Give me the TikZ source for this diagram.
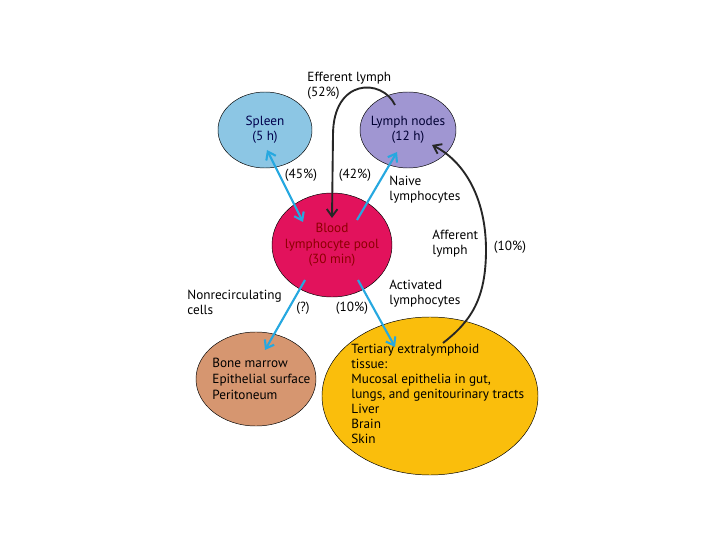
\documentclass[tikz,border=0pt]{standalone}
\usepackage{fontspec}
\setmainfont{PT Sans}
\usetikzlibrary{arrows.meta,calc,shapes.geometric}
\definecolor{spleenblue}{RGB}{140,198,228}
\definecolor{nodeviolet}{RGB}{160,150,210}
\definecolor{poolred}{RGB}{226,18,92}
\definecolor{marrowtan}{RGB}{214,150,112}
\definecolor{tissueyellow}{RGB}{250,190,12}
\definecolor{flowblue}{RGB}{38,168,224}
\tikzset{
  organ/.style={draw,ellipse,inner sep=0pt},
  organtext/.style={align=center,font=\fontsize{11.3}{13}\selectfont,inner sep=0pt},
  tag/.style={align=left,font=\fontsize{11.3}{13}\selectfont,inner sep=1pt},
  flow/.style={draw=flowblue,line width=1.8pt},
  lymphflow/.style={draw=black!85,line width=1.6pt}
}

\begin{document}
\begin{tikzpicture}[x=0.03cm,y=-0.03cm,>={Straight Barb[length=2.2mm,width=3.2mm]}]
  \useasboundingbox[fill=white] (0,0) rectangle (720,540);
  % compartments
  \node[organ,fill=spleenblue,minimum width=2.82cm,minimum height=2.28cm,
    label={[organtext,text=blue!30!black]center:Spleen\\(5 h)}] (spleen) at (265,130) {};
  \node[organ,fill=nodeviolet,minimum width=2.88cm,minimum height=2.28cm,
    label={[organtext,text=black!80!blue]center:Lymph nodes\\(12 h)}] (lymph) at (408,130) {};
  \node[organ,fill=poolred,minimum width=3.6cm,minimum height=3.12cm,
    label={[organtext,text=red!55!black]center:Blood\\lymphocyte pool\\(30 min)}] (pool) at (332,245) {};
  \node[organ,fill=marrowtan,minimum width=3.6cm,minimum height=2.82cm] (marrow) at (256,379) {};
  \node[organ,fill=tissueyellow,minimum width=6.48cm,minimum height=4.74cm] (tissue) at (430,396) {};
  \node[tag,anchor=north west,font=\fontsize{11.3}{13.6}\selectfont] (marrowtxt) at (211,357) {Bone marrow\\Epithelial surface\\Peritoneum};
  \node[tag,anchor=north west,font=\fontsize{11.3}{12.7}\selectfont] (tissuetxt) at (350,343) {Tertiary extralymphoid\\tissue:\\Mucosal epithelia in gut,\\lungs, and genitourinary tracts\\Liver\\Brain\\Skin};

  % blue traffic from the pool
  \draw[flow,<->] ($(pool.center)+(-29,-23)$) -- ($(spleen.center)+(2,20)$);
  \draw[flow,->] ($(pool.center)+(25,-25)$) -- ($(lymph.center)+(-11,22)$);
  \draw[flow,->] ($(pool.center)+(-27,35)$) -- ($(marrow.center)+(9,-29)$);
  \draw[flow,->] ($(pool.center)+(26,35)$) -- ($(tissue.center)+(-35,-49)$);

  % black lymph routes
  \draw[lymphflow,->] ($(lymph.center)+(-13,-25)$) .. controls (382,78) and (333,78) .. (333,135) -- ($(pool.center)+(0,-27)$);
  \draw[lymphflow,->] ($(tissue.center)+(13,-53)$) .. controls (470,322) and (486,300) .. (486,250)
    .. controls (486,195) and (462,160) .. ($(lymph.center)+(24,15)$);

  % labels
  \node[tag,anchor=west] (efferent) at (306,86) {Efferent lymph\\(52\%)};
  \node[tag] (p45) at (301,175) {(45\%)};
  \node[tag] (p42) at (355,175) {(42\%)};
  \node[tag,anchor=west] (naive) at (388,190) {Naive\\lymphocytes};
  \node[tag,anchor=west] (afferent) at (431,244) {Afferent\\lymph};
  \node[tag] (p10a) at (510,247) {(10\%)};
  \node[tag,anchor=west] (activated) at (388,294) {Activated\\lymphocytes};
  \node[tag,anchor=west] (nonrec) at (186,302) {Nonrecirculating\\cells};
  \node[tag] (pq) at (303,308) {(?)};
  \node[tag] (p10b) at (352,308) {(10\%)};
\end{tikzpicture}
\end{document}
